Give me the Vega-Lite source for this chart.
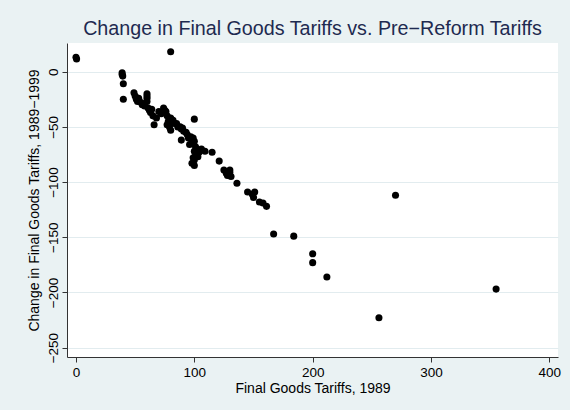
{
  "$schema": "https://vega.github.io/schema/vega-lite/v6.json",
  "width": 491,
  "height": 314,
  "autosize": {"type": "none"},
  "padding": {"left": 67, "top": 43, "right": 12, "bottom": 53},
  "background": "#eaf2f3",
  "title": {
    "text": "Change in Final Goods Tariffs vs. Pre−Reform Tariffs",
    "font": "Liberation Sans",
    "fontSize": 19.7,
    "fontWeight": "normal",
    "color": "#1e2a50",
    "anchor": "middle",
    "frame": "group",
    "baseline": "alphabetic",
    "offset": -12
  },
  "config": {
    "view": {"stroke": null, "fill": "white"},
    "font": "Liberation Sans"
  },
  "data": {
    "values": [
      {"tariff1989": 0, "change": 13},
      {"tariff1989": 0.5, "change": 11.5},
      {"tariff1989": 80, "change": 18},
      {"tariff1989": 39, "change": -1},
      {"tariff1989": 39, "change": -2.5},
      {"tariff1989": 39.5, "change": -4},
      {"tariff1989": 40, "change": -11},
      {"tariff1989": 40, "change": -25},
      {"tariff1989": 49, "change": -19},
      {"tariff1989": 50, "change": -22},
      {"tariff1989": 51, "change": -25},
      {"tariff1989": 52, "change": -27},
      {"tariff1989": 53, "change": -24},
      {"tariff1989": 55, "change": -28},
      {"tariff1989": 56, "change": -30},
      {"tariff1989": 58, "change": -31},
      {"tariff1989": 60, "change": -20},
      {"tariff1989": 60, "change": -22},
      {"tariff1989": 60, "change": -24},
      {"tariff1989": 60, "change": -27},
      {"tariff1989": 61, "change": -33},
      {"tariff1989": 62, "change": -35},
      {"tariff1989": 63, "change": -37},
      {"tariff1989": 64, "change": -34},
      {"tariff1989": 65, "change": -40},
      {"tariff1989": 66, "change": -48},
      {"tariff1989": 68, "change": -42},
      {"tariff1989": 70, "change": -36},
      {"tariff1989": 72, "change": -38},
      {"tariff1989": 74, "change": -33},
      {"tariff1989": 75, "change": -35},
      {"tariff1989": 76, "change": -36},
      {"tariff1989": 77, "change": -40},
      {"tariff1989": 78, "change": -45},
      {"tariff1989": 77, "change": -48},
      {"tariff1989": 79, "change": -50},
      {"tariff1989": 80, "change": -53},
      {"tariff1989": 80, "change": -42},
      {"tariff1989": 82, "change": -44},
      {"tariff1989": 83, "change": -47},
      {"tariff1989": 85, "change": -47},
      {"tariff1989": 86, "change": -50},
      {"tariff1989": 88, "change": -50},
      {"tariff1989": 89, "change": -52},
      {"tariff1989": 90, "change": -51},
      {"tariff1989": 91, "change": -54},
      {"tariff1989": 93, "change": -55},
      {"tariff1989": 94, "change": -57},
      {"tariff1989": 89, "change": -62},
      {"tariff1989": 95, "change": -60},
      {"tariff1989": 96, "change": -66},
      {"tariff1989": 97, "change": -59},
      {"tariff1989": 98, "change": -62},
      {"tariff1989": 99, "change": -60},
      {"tariff1989": 100, "change": -43},
      {"tariff1989": 100, "change": -63},
      {"tariff1989": 101, "change": -68},
      {"tariff1989": 100, "change": -72},
      {"tariff1989": 101, "change": -74},
      {"tariff1989": 99, "change": -78},
      {"tariff1989": 100, "change": -80},
      {"tariff1989": 98, "change": -83},
      {"tariff1989": 100, "change": -85},
      {"tariff1989": 102, "change": -70},
      {"tariff1989": 103, "change": -77},
      {"tariff1989": 104, "change": -73},
      {"tariff1989": 106, "change": -70},
      {"tariff1989": 109, "change": -72},
      {"tariff1989": 115, "change": -73},
      {"tariff1989": 121, "change": -81},
      {"tariff1989": 125, "change": -89},
      {"tariff1989": 127, "change": -92},
      {"tariff1989": 128, "change": -94},
      {"tariff1989": 130, "change": -91},
      {"tariff1989": 131, "change": -95},
      {"tariff1989": 130, "change": -89},
      {"tariff1989": 136, "change": -101},
      {"tariff1989": 145, "change": -109},
      {"tariff1989": 149, "change": -111},
      {"tariff1989": 150, "change": -114},
      {"tariff1989": 151, "change": -109},
      {"tariff1989": 155, "change": -118},
      {"tariff1989": 158, "change": -119},
      {"tariff1989": 161, "change": -122},
      {"tariff1989": 167, "change": -147},
      {"tariff1989": 184, "change": -149},
      {"tariff1989": 200, "change": -165},
      {"tariff1989": 200, "change": -173},
      {"tariff1989": 212, "change": -186},
      {"tariff1989": 256, "change": -223},
      {"tariff1989": 270, "change": -112},
      {"tariff1989": 355, "change": -197}
    ]
  },
  "mark": {"type": "point", "filled": true, "color": "black", "opacity": 1, "size": 50},
  "encoding": {
    "x": {
      "field": "tariff1989",
      "type": "quantitative",
      "scale": {"domain": [-7.6, 407.3], "nice": false, "zero": false},
      "axis": {
        "title": "Final Goods Tariffs, 1989",
        "values": [0, 100, 200, 300, 400],
        "format": "d",
        "grid": false,
        "domainColor": "#333333",
        "tickColor": "#333333",
        "tickSize": 5,
        "labelFontSize": 13.5,
        "labelColor": "black",
        "labelPadding": 3,
        "titleFontSize": 14,
        "titleFontWeight": "normal",
        "titleColor": "black",
        "titlePadding": 3
      }
    },
    "y": {
      "field": "change",
      "type": "quantitative",
      "scale": {"domain": [-258.5, 26], "nice": false, "zero": false},
      "axis": {
        "title": "Change in Final Goods Tariffs, 1989−1999",
        "values": [0, -50, -100, -150, -200, -250],
        "format": "d",
        "grid": true,
        "gridColor": "#e2ecef",
        "domainColor": "#333333",
        "tickColor": "#333333",
        "tickSize": 5,
        "labelAngle": -90,
        "labelAlign": "center",
        "labelBaseline": "alphabetic",
        "labelFontSize": 13.5,
        "labelColor": "black",
        "labelPadding": 5,
        "titleFontSize": 14,
        "titleFontWeight": "normal",
        "titleColor": "black",
        "titlePadding": 5
      }
    }
  }
}
